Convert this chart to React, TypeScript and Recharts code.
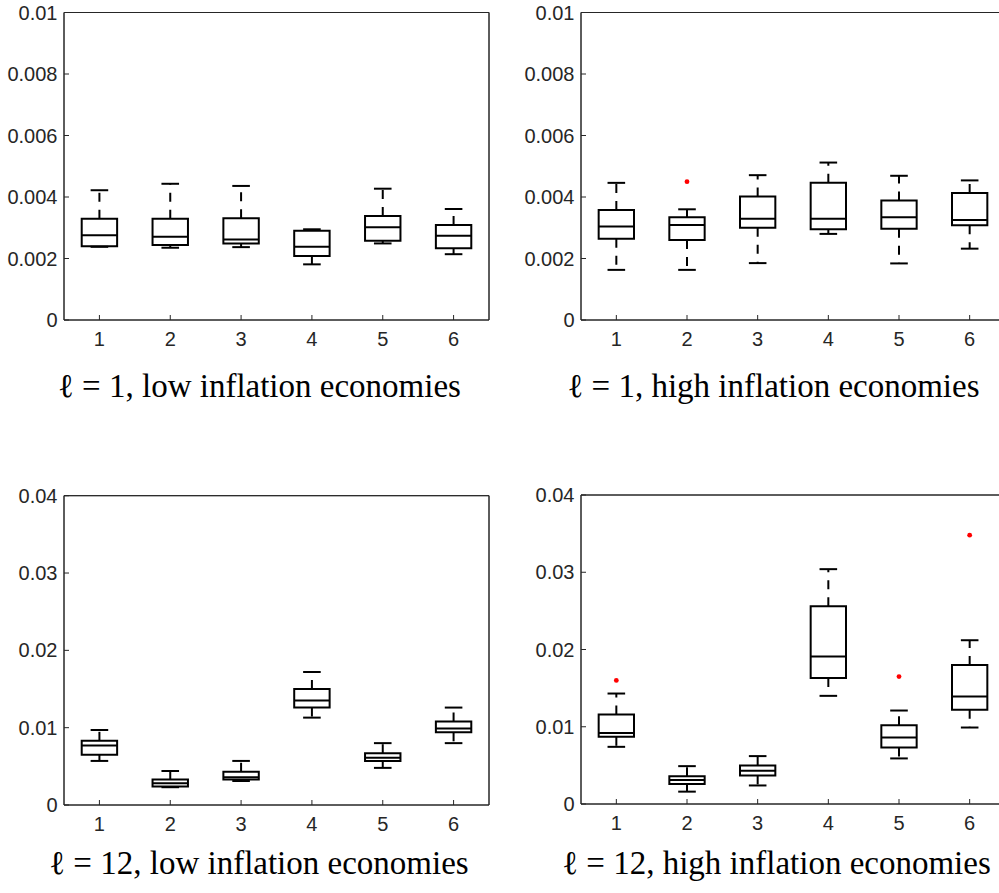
import { ComposedChart, XAxis, YAxis, ReferenceArea, ReferenceLine, Scatter } from 'recharts'

// category positions on the x axis
const groups = [1, 2, 3, 4, 5, 6]

const ticksShort = [0, 0.002, 0.004, 0.006, 0.008, 0.01]
const ticksLong = [0, 0.01, 0.02, 0.03, 0.04]

// l = 1, low inflation
const lowL1Min = [0.00238, 0.00235, 0.00237, 0.00181, 0.00249, 0.00214]
const lowL1Q1 = [0.0024, 0.00244, 0.00249, 0.00208, 0.00258, 0.00233]
const lowL1Med = [0.00276, 0.00271, 0.00262, 0.00238, 0.00302, 0.00274]
const lowL1Q3 = [0.00329, 0.00329, 0.00331, 0.0029, 0.00338, 0.00309]
const lowL1Max = [0.00422, 0.00443, 0.00436, 0.00295, 0.00427, 0.00361]
const lowL1Out: { x: number; y: number }[] = []

// l = 1, high inflation
const highL1Min = [0.00163, 0.00163, 0.00185, 0.0028, 0.00184, 0.00232]
const highL1Q1 = [0.00264, 0.0026, 0.003, 0.00295, 0.00297, 0.00308]
const highL1Med = [0.00304, 0.00309, 0.00329, 0.00329, 0.00334, 0.00325]
const highL1Q3 = [0.00358, 0.00334, 0.00402, 0.00446, 0.00389, 0.00413]
const highL1Max = [0.00446, 0.0036, 0.00471, 0.00512, 0.00469, 0.00454]
const highL1Out = [{ x: 2, y: 0.0045 }]

// l = 12, low inflation
const lowL12Min = [0.0057, 0.0023, 0.0031, 0.0113, 0.0048, 0.008]
const lowL12Q1 = [0.0065, 0.0024, 0.0033, 0.0126, 0.0057, 0.0094]
const lowL12Med = [0.0077, 0.0028, 0.0036, 0.0135, 0.0061, 0.0099]
const lowL12Q3 = [0.0083, 0.0033, 0.0043, 0.015, 0.0067, 0.0108]
const lowL12Max = [0.0097, 0.0044, 0.0057, 0.0172, 0.008, 0.0126]
const lowL12Out: { x: number; y: number }[] = []

// l = 12, high inflation
const highL12Min = [0.0074, 0.0016, 0.0024, 0.014, 0.0059, 0.0099]
const highL12Q1 = [0.0087, 0.0026, 0.0037, 0.0163, 0.0073, 0.0122]
const highL12Med = [0.0092, 0.0031, 0.0043, 0.0191, 0.0086, 0.0139]
const highL12Q3 = [0.0116, 0.0036, 0.005, 0.0256, 0.0102, 0.018]
const highL12Max = [0.0143, 0.0049, 0.0062, 0.0304, 0.0121, 0.0212]
const highL12Out = [
  { x: 1, y: 0.016 },
  { x: 5, y: 0.0165 },
  { x: 6, y: 0.0348 },
]

const AXIS = '#262626'
const FONT = 'Liberation Sans, Arial, sans-serif'

function BottomTick(props: any) {
  return (
    <text x={props.x} y={props.y} dy="0.71em" textAnchor="middle" fill={AXIS} fontSize={20} fontFamily={FONT}>
      {props.payload.value}
    </text>
  )
}

function LeftTick(props: any) {
  return (
    <text x={props.x} y={props.y} dy="0.355em" textAnchor="end" fill={AXIS} fontSize={20} fontFamily={FONT}>
      {String(props.payload.value)}
    </text>
  )
}

const CAP_HALF = 8.8

function capShape(s: any) {
  return <line x1={s.cx - CAP_HALF} x2={s.cx + CAP_HALF} y1={s.cy} y2={s.cy} stroke="#000" strokeWidth={2} />
}

interface PanelProps {
  left: number
  top: number
  width: number
  yAxisW: number
  plotW: number
  plotTop: number
  plotBottom: number
  yMax: number
  yTicks: number[]
  lo: number[]
  q1: number[]
  med: number[]
  q3: number[]
  hi: number[]
  outliers: { x: number; y: number }[]
}

function BoxPanel(p: PanelProps) {
  const height = p.plotBottom + 40
  const marginRight = p.width - p.yAxisW - p.plotW - 1
  const upperCaps = groups.map((g, i) => ({ x: g, y: p.hi[i] }))
  const lowerCaps = groups.map((g, i) => ({ x: g, y: p.lo[i] }))
  return (
    <div style={{ position: 'absolute', left: p.left, top: p.top, width: 999 - p.left, height, overflow: 'hidden' }}>
      <ComposedChart
        width={p.width}
        height={height}
        margin={{ top: p.plotTop - 1, right: marginRight, bottom: 0, left: 0 }}
      >
        <XAxis
          type="number"
          dataKey="x"
          domain={[0.5, 6.5]}
          ticks={groups}
          interval={0}
          height={40}
          stroke={AXIS}
          tick={<BottomTick />}
          tickSize={-5}
          tickMargin={17}
        />
        <XAxis
          xAxisId="top"
          orientation="top"
          type="number"
          dataKey="x"
          domain={[0.5, 6.5]}
          ticks={groups}
          interval={0}
          height={1}
          stroke={AXIS}
          tickSize={-5}
          tickFormatter={() => ''}
        />
        <YAxis
          type="number"
          dataKey="y"
          domain={[0, p.yMax]}
          ticks={p.yTicks}
          interval={0}
          width={p.yAxisW}
          stroke={AXIS}
          tick={<LeftTick />}
          tickSize={-5}
          tickMargin={11.5}
        />
        <YAxis
          yAxisId="right"
          orientation="right"
          type="number"
          dataKey="y"
          domain={[0, p.yMax]}
          ticks={p.yTicks}
          interval={0}
          width={1}
          stroke={AXIS}
          tickSize={-5}
          tickFormatter={() => ''}
        />
        <ReferenceArea
          x1={0.5}
          x2={6.5}
          y1={0}
          y2={p.yMax}
          fill="none"
          stroke={AXIS}
          strokeWidth={1}
          ifOverflow="visible"
        />
        {groups.map((g, i) => (
          <ReferenceLine
            key={`wu${g}`}
            segment={[{ x: g, y: p.q3[i] }, { x: g, y: p.hi[i] }]}
            stroke="#000"
            strokeWidth={2}
            strokeDasharray="9 8"
            ifOverflow="visible"
          />
        ))}
        {groups.map((g, i) => (
          <ReferenceLine
            key={`wl${g}`}
            segment={[{ x: g, y: p.q1[i] }, { x: g, y: p.lo[i] }]}
            stroke="#000"
            strokeWidth={2}
            strokeDasharray="9 8"
            ifOverflow="visible"
          />
        ))}
        {groups.map((g, i) => (
          <ReferenceArea
            key={`b${g}`}
            x1={g - 0.25}
            x2={g + 0.25}
            y1={p.q1[i]}
            y2={p.q3[i]}
            fill="#fff"
            fillOpacity={1}
            stroke="#000"
            strokeWidth={2}
            ifOverflow="visible"
          />
        ))}
        {groups.map((g, i) => (
          <ReferenceLine
            key={`m${g}`}
            segment={[{ x: g - 0.25, y: p.med[i] }, { x: g + 0.25, y: p.med[i] }]}
            stroke="#000"
            strokeWidth={2}
            ifOverflow="visible"
          />
        ))}
        <Scatter data={upperCaps} isAnimationActive={false} shape={capShape} />
        <Scatter data={lowerCaps} isAnimationActive={false} shape={capShape} />
        <Scatter
          data={p.outliers}
          isAnimationActive={false}
          shape={(s: any) => <circle cx={s.cx} cy={s.cy} r={2.4} fill="#ff0000" />}
        />
      </ComposedChart>
    </div>
  )
}

const titleFont = { fontFamily: 'Liberation Serif, Times New Roman, serif', fontSize: 33, fill: '#000' }

export default function App() {
  return (
    <div
      style={{
        position: 'absolute',
        left: 0,
        top: 0,
        width: 999,
        height: 893,
        overflow: 'hidden',
        background: '#fff',
      }}
    >
      <BoxPanel
        left={0}
        top={0}
        width={499}
        yAxisW={64}
        plotW={425}
        plotTop={12.5}
        plotBottom={320}
        yMax={0.01}
        yTicks={ticksShort}
        lo={lowL1Min}
        q1={lowL1Q1}
        med={lowL1Med}
        q3={lowL1Q3}
        hi={lowL1Max}
        outliers={lowL1Out}
      />
      <BoxPanel
        left={500}
        top={0}
        width={520}
        yAxisW={81}
        plotW={424}
        plotTop={12.5}
        plotBottom={320}
        yMax={0.01}
        yTicks={ticksShort}
        lo={highL1Min}
        q1={highL1Q1}
        med={highL1Med}
        q3={highL1Q3}
        hi={highL1Max}
        outliers={highL1Out}
      />
      <BoxPanel
        left={0}
        top={480}
        width={499}
        yAxisW={64}
        plotW={425}
        plotTop={15.7}
        plotBottom={325}
        yMax={0.04}
        yTicks={ticksLong}
        lo={lowL12Min}
        q1={lowL12Q1}
        med={lowL12Med}
        q3={lowL12Q3}
        hi={lowL12Max}
        outliers={lowL12Out}
      />
      <BoxPanel
        left={500}
        top={480}
        width={520}
        yAxisW={81}
        plotW={424}
        plotTop={15}
        plotBottom={324}
        yMax={0.04}
        yTicks={ticksLong}
        lo={highL12Min}
        q1={highL12Q1}
        med={highL12Med}
        q3={highL12Q3}
        hi={highL12Max}
        outliers={highL12Out}
      />
      <svg
        width={999}
        height={893}
        style={{ position: 'absolute', left: 0, top: 0, pointerEvents: 'none' }}
      >
        <text x={259.5} y={397} textAnchor="middle" style={titleFont}>
          ℓ = 1, low inflation economies
        </text>
        <text x={773.5} y={397} textAnchor="middle" style={titleFont}>
          ℓ = 1, high inflation economies
        </text>
        <text x={259} y={874} textAnchor="middle" style={titleFont}>
          ℓ = 12, low inflation economies
        </text>
        <text x={776.5} y={874} textAnchor="middle" style={titleFont}>
          ℓ = 12, high inflation economies
        </text>
      </svg>
    </div>
  )
}
